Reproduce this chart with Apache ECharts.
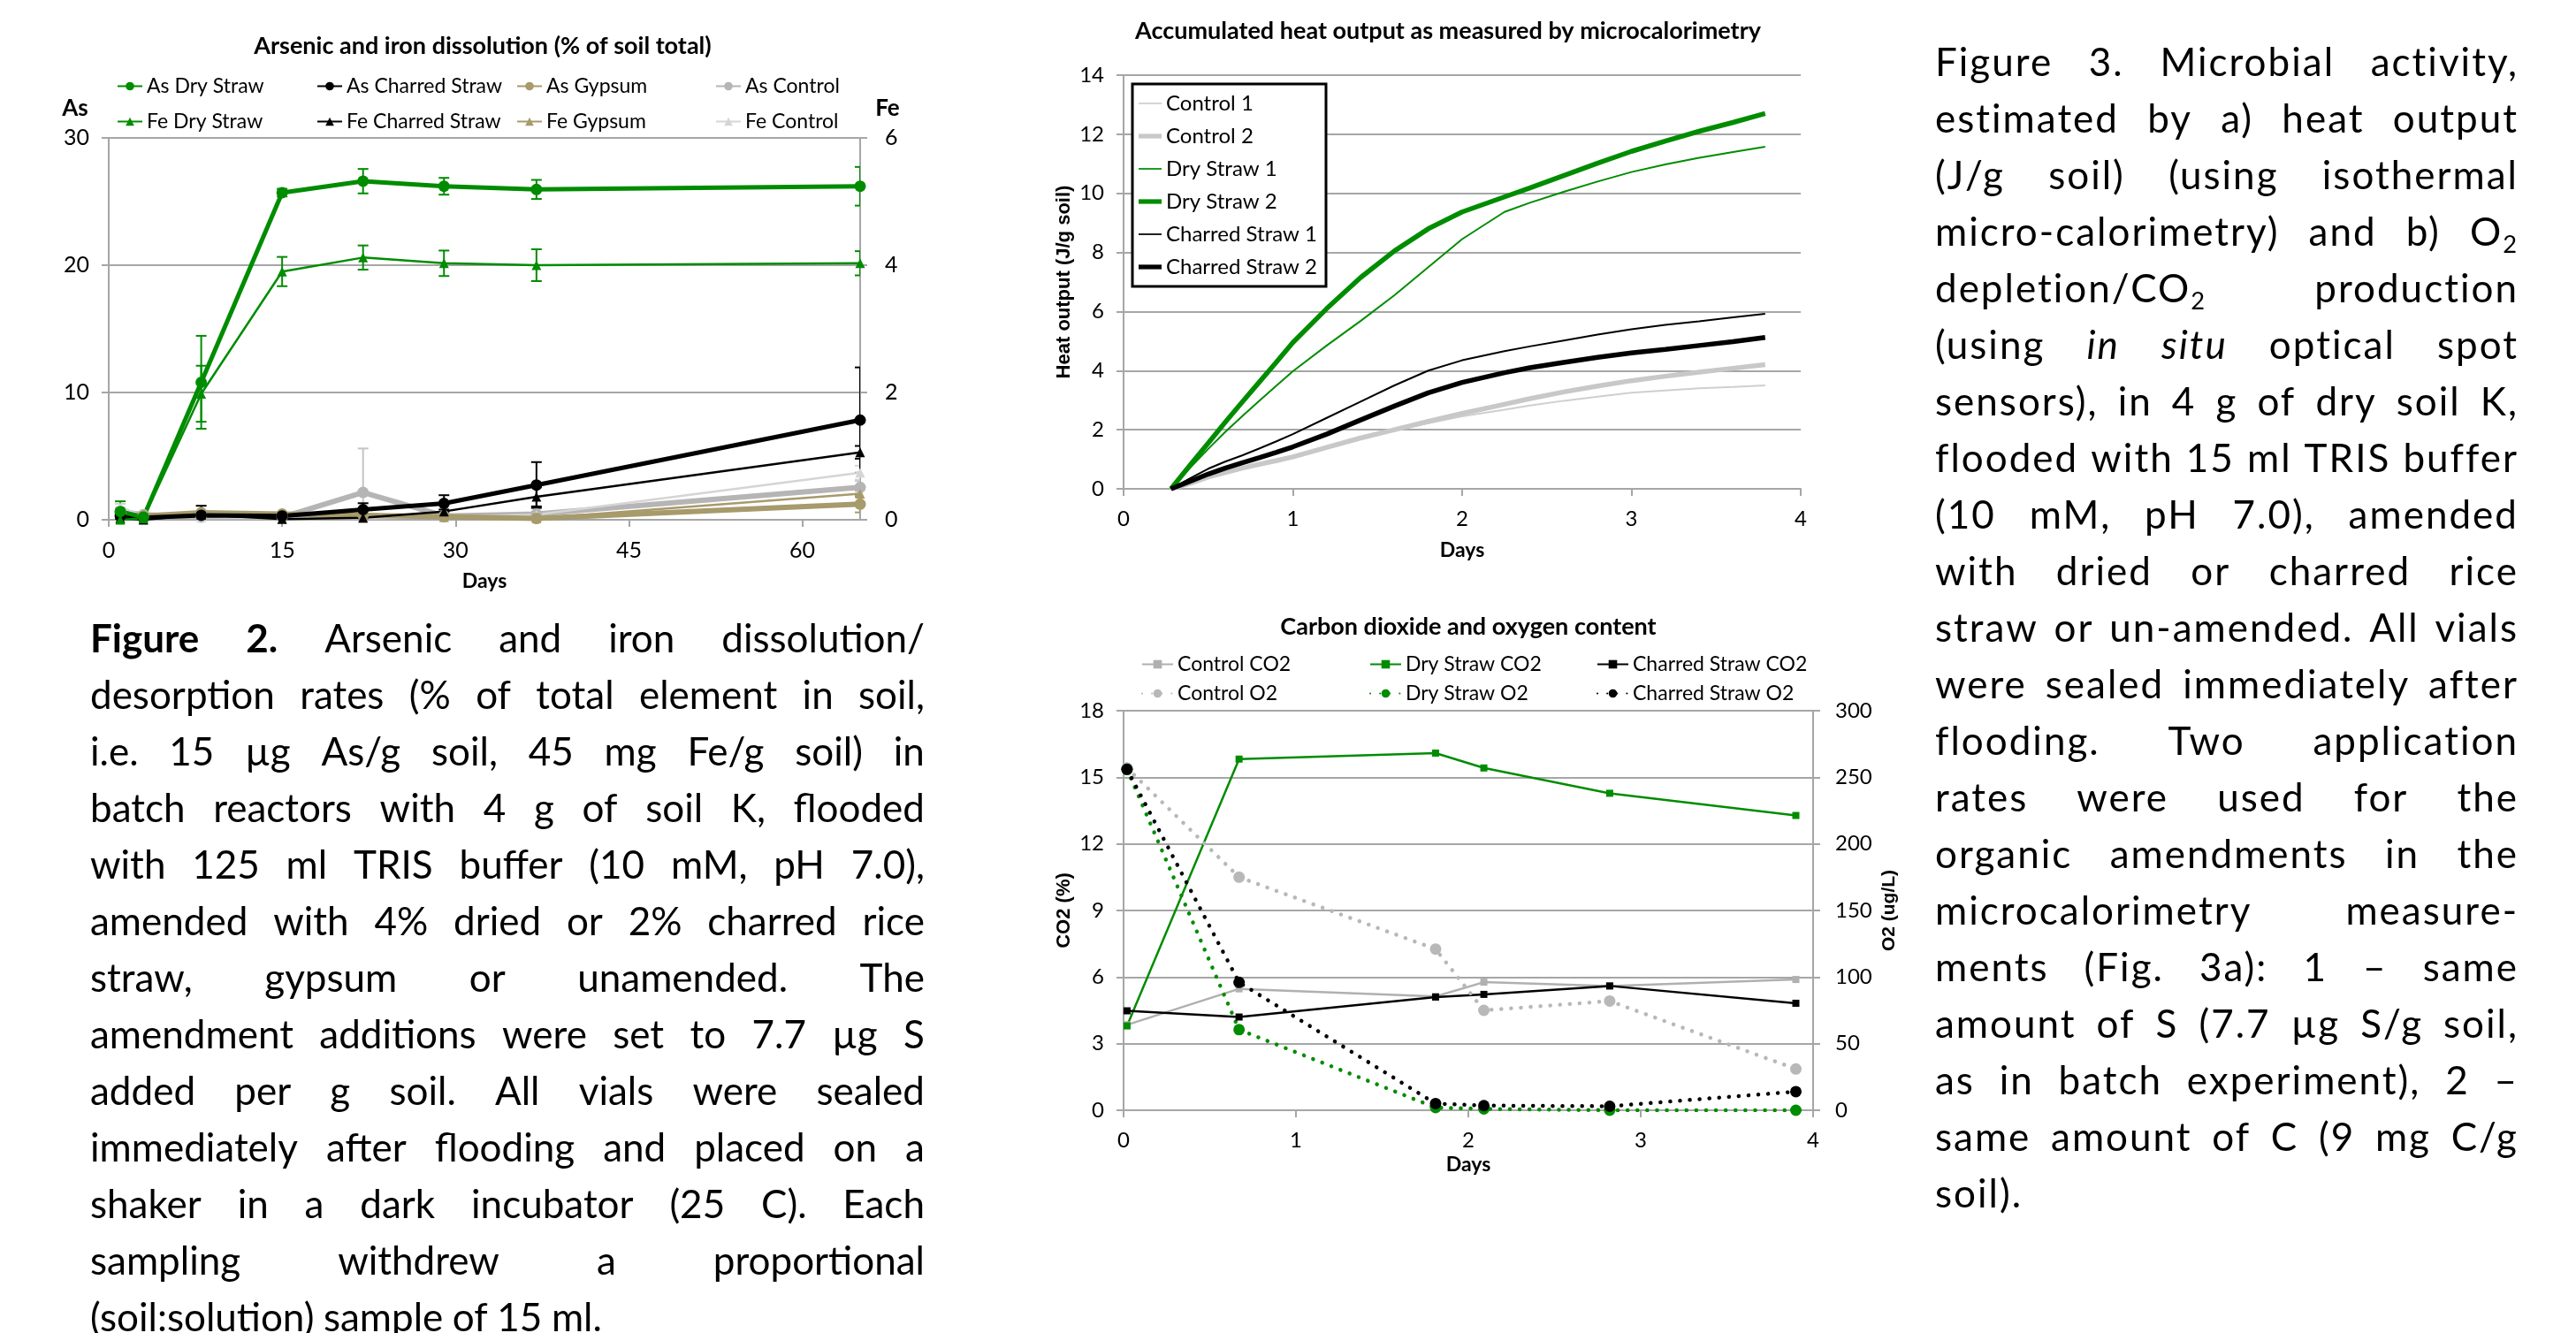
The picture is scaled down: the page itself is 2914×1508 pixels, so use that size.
<!DOCTYPE html>
<html lang="en">
<head>
<meta charset="UTF-8">
<title>Arsenic and iron dissolution / microbial activity</title>
<style>
    html, body { margin: 0; padding: 0; width: 2914px; height: 1508px; overflow: hidden; background: #fff; }
    #main { position: absolute; left: 0; top: 0; width: 2914px; height: 1508px; }
    .cap { position: absolute; font-family: Lato, "Open Sans", sans-serif; color: #000; }
    .cap .ln { display: flex; justify-content: space-between; column-gap: 0.22em; white-space: nowrap; height: 64px; line-height: 64px; }
    .cap .ln.last { justify-content: flex-start; column-gap: 0.24em; }
    .cap sub { font-size: 0.62em; line-height: 0; vertical-align: -0.3em; }
</style>
</head>
<body>
<div id="main"></div>
<div id="cap2" class="cap" style="left:102px; top:689px; width:944px; font-size:44px;"></div>
<div id="cap3" class="cap" style="left:2189px; top:37px; width:660px; font-size:44px; letter-spacing:2px;"></div>

<script src="https://cdn.jsdelivr.net/npm/echarts@6/dist/echarts.min.js"></script>
<script type="text/javascript">

    // ---- Fig 2: As / Fe dissolution (As in % on left axis, Fe in % on right axis)
    var asDays = [1, 3, 8, 15, 22, 29, 37, 65];
    var asDryStraw     = [0.65, 0.2, 10.8, 25.7, 26.6, 26.2, 25.95, 26.2];
    var asDryStrawErr  = [0.8, 0.2, 3.65, 0.3, 0.96, 0.66, 0.75, 1.52];
    var feDryStraw     = [0.0, 0.02, 1.98, 3.9, 4.12, 4.03, 4.0, 4.03];
    var feDryStrawErr  = [0.02, 0.02, 0.44, 0.23, 0.19, 0.2, 0.25, 0.19];
    var asCharred      = [0.3, 0.15, 0.35, 0.3, 0.8, 1.28, 2.73, 7.83];
    var asCharredErr   = [0.15, 0.1, 0.15, 0.1, 0.5, 0.65, 1.8, 4.14];
    var feCharred      = [0.02, 0.0, 0.08, 0.01, 0.03, 0.13, 0.36, 1.06];
    var feCharredErr   = [0.01, 0.01, 0.14, 0.01, 0.02, 0.03, 0.15, 0.1];
    var asGypsum       = [0.45, 0.3, 0.55, 0.45, 0.35, 0.25, 0.1, 1.23];
    var asGypsumErr    = [0.15, 0.1, 0.1, 0.1, 0.1, 0.1, 0.1, 0.65];
    var feGypsum       = [0.04, 0.03, 0.09, 0.08, 0.06, 0.04, 0.02, 0.41];
    var feGypsumErr    = [0.02, 0.01, 0.02, 0.02, 0.01, 0.01, 0.01, 0.05];
    var asControl      = [0.65, 0.4, 0.2, 0.2, 2.15, 0.3, 0.45, 2.55];
    var asControlErr   = [0.3, 0.1, 0.1, 0.1, 3.45, 0.1, 0.2, 0.5];
    var feControl      = [0.2, 0.06, 0.04, 0.02, 0.02, 0.04, 0.08, 0.74];
    var feControlErr   = [0.05, 0.02, 0.02, 0.02, 0.02, 0.02, 0.04, 0.11];

    // ---- Fig 3a: accumulated heat (J/g soil)
    var heatDays   = [0.28, 0.4, 0.5, 0.6, 0.7, 0.8, 0.9, 1.0, 1.2, 1.4, 1.6, 1.8, 2.0, 2.25, 2.4, 2.6, 2.8, 3.0, 3.2, 3.4, 3.6, 3.79];
    var control1   = [0, 0.2, 0.38, 0.52, 0.66, 0.8, 0.92, 1.05, 1.38, 1.7, 1.98, 2.22, 2.45, 2.68, 2.82, 2.98, 3.12, 3.25, 3.33, 3.4, 3.45, 3.5];
    var control2   = [0, 0.2, 0.4, 0.55, 0.7, 0.83, 0.95, 1.08, 1.4, 1.72, 2.0, 2.28, 2.55, 2.86, 3.05, 3.28, 3.48, 3.66, 3.81, 3.95, 4.08, 4.2];
    var dryStraw1  = [0, 0.75, 1.35, 1.92, 2.45, 2.97, 3.48, 3.98, 4.85, 5.68, 6.55, 7.5, 8.45, 9.37, 9.68, 10.05, 10.4, 10.72, 10.98, 11.2, 11.4, 11.58];
    var dryStraw2  = [0, 0.85, 1.55, 2.25, 2.93, 3.6, 4.27, 4.95, 6.1, 7.15, 8.05, 8.8, 9.37, 9.88, 10.18, 10.6, 11.02, 11.42, 11.77, 12.1, 12.4, 12.7];
    var charred1   = [0, 0.38, 0.68, 0.92, 1.13, 1.36, 1.6, 1.85, 2.4, 2.95, 3.5, 4.0, 4.35, 4.66, 4.82, 5.02, 5.22, 5.4, 5.55, 5.67, 5.8, 5.92];
    var charred2   = [0, 0.27, 0.5, 0.7, 0.88, 1.05, 1.23, 1.42, 1.85, 2.33, 2.8, 3.25, 3.6, 3.93, 4.1, 4.28, 4.45, 4.6, 4.72, 4.85, 4.98, 5.12];

    // ---- Fig 3b: CO2 (%) and O2 (ug/L)
    var gasDays     = [0.02, 0.67, 1.81, 2.09, 2.82, 3.9];
    var controlCO2  = [3.85, 5.47, 5.13, 5.77, 5.6, 5.89];
    var dryCO2      = [3.8, 15.82, 16.09, 15.42, 14.28, 13.28];
    var charredCO2  = [4.48, 4.2, 5.1, 5.22, 5.6, 4.82];
    var controlO2   = [257, 175, 121, 75, 82, 31];
    var dryO2       = [256, 60.5, 2, 1, 0, 0];
    var charredO2   = [256, 96, 5, 3.5, 3, 14];

    // ---- captions, one entry per printed line
    var caption2 = [
        '<b>Figure</b> <b>2.</b> Arsenic and iron dissolution/',
        'desorption rates (% of total element in soil,',
        'i.e. 15 µg As/g soil, 45 mg Fe/g soil) in',
        'batch reactors with 4 g of soil K, flooded',
        'with 125 ml TRIS buffer (10 mM, pH 7.0),',
        'amended with 4% dried or 2% charred rice',
        'straw, gypsum or unamended. The',
        'amendment additions were set to 7.7 µg S',
        'added per g soil. All vials were sealed',
        'immediately after flooding and placed on a',
        'shaker in a dark incubator (25 C). Each',
        'sampling withdrew a proportional',
        '(soil:solution) sample of 15 ml.'
    ];
    var caption3 = [
        'Figure 3. Microbial activity,',
        'estimated by a) heat output',
        '(J/g soil) (using isothermal',
        'micro-calorimetry) and b) O<sub>2</sub>',
        'depletion/CO<sub>2</sub> production',
        '(using <i>in</i> <i>situ</i> optical spot',
        'sensors), in 4 g of dry soil K,',
        'flooded with 15 ml TRIS buffer',
        '(10 mM, pH 7.0), amended',
        'with dried or charred rice',
        'straw or un-amended. All vials',
        'were sealed immediately after',
        'flooding. Two application',
        'rates were used for the',
        'organic amendments in the',
        'microcalorimetry measure-',
        'ments (Fig. 3a): 1 – same',
        'amount of S (7.7 µg S/g soil,',
        'as in batch experiment), 2 –',
        'same amount of C (9 mg C/g',
        'soil).'
    ];

    function fillCaption(id, lines) {
        var box = document.getElementById(id);
        lines.forEach(function (t, i) {
            var ln = document.createElement('div');
            ln.className = 'ln' + (i === lines.length - 1 ? ' last' : '');
            t.split(' ').forEach(function (w) {
                var s = document.createElement('span');
                s.innerHTML = w;
                ln.appendChild(s);
            });
            box.appendChild(ln);
        });
        // shrink until every line fits its box
        var fs = parseFloat(box.style.fontSize);
        var over = function () {
            return Array.prototype.some.call(box.children, function (l) { return l.scrollWidth > l.clientWidth + 0.5; });
        };
        while (fs > 20 && over()) {
            fs -= 0.5;
            box.style.fontSize = fs + 'px';
        }
    }
    fillCaption('cap2', caption2);
    fillCaption('cap3', caption3);

    var FONT = 'Lato, "Open Sans", sans-serif';
    var AXIS_C = '#a6a6a6';
    var GREEN = '#008c00';
    var TAN = '#a79a6b';

    function pairs(xs, ys) {
        return xs.map(function (x, i) { return [x, ys[i]]; });
    }

    function valueAxis(o) {
        var base = {
            type: 'value',
            axisLine: { show: true, onZero: false, lineStyle: { color: AXIS_C, width: 2 } },
            axisTick: { show: true, length: 8, lineStyle: { color: AXIS_C, width: 2 } },
            axisLabel: { fontFamily: FONT, fontSize: 24, color: '#000', margin: 22 },
            splitLine: { show: false, lineStyle: { color: AXIS_C, width: 2 } },
            nameTextStyle: { fontFamily: FONT, fontWeight: 'bold', fontSize: 23, color: '#000' }
        };
        for (var k in o) {
            if (typeof o[k] === 'object' && base[k] && !Array.isArray(o[k])) {
                base[k] = Object.assign({}, base[k], o[k]);
            } else {
                base[k] = o[k];
            }
        }
        return base;
    }

    function lineSeries(name, xs, ys, color, width, symbol, size, xIdx, yIdx, extra) {
        var s = {
            name: name,
            type: 'line',
            xAxisIndex: xIdx,
            yAxisIndex: yIdx,
            data: pairs(xs, ys),
            symbol: symbol,
            symbolSize: size,
            lineStyle: { color: color, width: width },
            itemStyle: { color: color },
            emphasis: { disabled: true }
        };
        return Object.assign(s, extra || {});
    }

    function errorSeries(xs, ys, errs, color, yIdx) {
        return {
            type: 'custom',
            name: 'err',
            xAxisIndex: 0,
            yAxisIndex: yIdx,
            silent: true,
            clip: true,
            encode: { x: 0, y: [1, 2] },
            data: xs.map(function (x, i) { return [x, ys[i] - errs[i], ys[i] + errs[i]]; }),
            renderItem: function (params, api) {
                var top = api.coord([api.value(0), api.value(2)]);
                var bot = api.coord([api.value(0), api.value(1)]);
                var w = 6;
                var st = { stroke: color, lineWidth: 2 };
                return {
                    type: 'group',
                    children: [
                        { type: 'line', shape: { x1: top[0], y1: top[1], x2: bot[0], y2: bot[1] }, style: st },
                        { type: 'line', shape: { x1: top[0] - w, y1: top[1], x2: top[0] + w, y2: top[1] }, style: st },
                        { type: 'line', shape: { x1: bot[0] - w, y1: bot[1], x2: bot[0] + w, y2: bot[1] }, style: st }
                    ]
                };
            }
        };
    }

    var legendText = { fontFamily: FONT, fontSize: 23, color: '#000' };
    function colLegend(names, left, top, gap, iw) {
        return {
            data: names, left: left, top: top, orient: 'vertical', padding: 0,
            itemGap: gap, itemWidth: iw, itemHeight: 12, selectedMode: false, textStyle: legendText
        };
    }

    // plain bar icons for the heat legend (thin / thick strokes)
    var THIN = 'path://M0,0H30V2H0Z';
    var THICK = 'path://M0,0H30V6H0Z';

    var titleStyle = { fontFamily: FONT, fontSize: 27, fontWeight: 'bold', color: '#000' };
    var dotted = [0.1, 11];

    var myChart = echarts.init(document.getElementById('main'));

    var option = {
        animation: false,
        backgroundColor: 'transparent',
        title: [
            { text: 'Arsenic and iron dissolution (% of soil total)', left: 546, top: 39, textAlign: 'center', padding: 0, textStyle: titleStyle },
            { text: 'Accumulated heat output as measured by microcalorimetry', left: 1638, top: 22, textAlign: 'center', padding: 0, textStyle: titleStyle },
            { text: 'Carbon dioxide and oxygen content', left: 1661, top: 696, textAlign: 'center', padding: 0, textStyle: titleStyle }
        ],
        legend: [
            colLegend(['As Dry Straw', 'Fe Dry Straw'], 132, 86, 17, 28),
            colLegend(['As Charred Straw', 'Fe Charred Straw'], 358, 86, 17, 28),
            colLegend(['As Gypsum', 'Fe Gypsum'], 584, 86, 17, 28),
            colLegend(['As Control', 'Fe Control'], 809, 86, 17, 28),
            {
                data: [
                    { name: 'Control 1', icon: THIN },
                    { name: 'Control 2', icon: THICK },
                    { name: 'Dry Straw 1', icon: THIN },
                    { name: 'Dry Straw 2', icon: THICK },
                    { name: 'Charred Straw 1', icon: THIN },
                    { name: 'Charred Straw 2', icon: THICK }
                ],
                left: 1281, top: 95, orient: 'vertical', padding: [10, 10, 10, 7],
                borderColor: '#000', borderWidth: 3, backgroundColor: '#fff',
                itemGap: 13, itemWidth: 26, itemHeight: 14, selectedMode: false,
                textStyle: { fontFamily: FONT, fontSize: 24, color: '#000' }
            },
            colLegend(['Control CO2', 'Control O2'], 1291, 740, 10, 35),
            colLegend(['Dry Straw CO2', 'Dry Straw O2'], 1549, 740, 10, 35),
            colLegend(['Charred Straw CO2', 'Charred Straw O2'], 1806, 740, 10, 35)
        ],
        graphic: [
            { type: 'text', x: 85, y: 123, style: { text: 'As', font: 'bold 26px Lato', fill: '#000', align: 'center', verticalAlign: 'middle' } },
            { type: 'text', x: 1004, y: 123, style: { text: 'Fe', font: 'bold 26px Lato', fill: '#000', align: 'center', verticalAlign: 'middle' } }
        ],
        grid: [
            { left: 123, top: 156, width: 850, height: 432, outerBoundsMode: 'none' },
            { left: 1271, top: 85, width: 766, height: 468, outerBoundsMode: 'none' },
            { left: 1271, top: 804, width: 780, height: 452, outerBoundsMode: 'none' }
        ],
        xAxis: [
            valueAxis({ gridIndex: 0, min: 0, max: 65, interval: 15, name: 'Days', nameLocation: 'middle', nameGap: 58,
                axisLabel: { fontSize: 25, showMaxLabel: false } }),
            valueAxis({ gridIndex: 1, min: 0, max: 4, interval: 1, name: 'Days', nameLocation: 'middle', nameGap: 58 }),
            valueAxis({ gridIndex: 2, min: 0, max: 4, interval: 1, name: 'Days', nameLocation: 'middle', nameGap: 50 })
        ],
        yAxis: [
            valueAxis({ gridIndex: 0, min: 0, max: 30, interval: 10, position: 'left',
                axisLabel: { fontSize: 25 }, splitLine: { show: true } }),
            valueAxis({ gridIndex: 0, min: 0, max: 6, interval: 2, position: 'right',
                axisLabel: { fontSize: 25, margin: 28 } }),
            valueAxis({ gridIndex: 1, min: 0, max: 14, interval: 2, splitLine: { show: true },
                name: 'Heat output (J/g soil)', nameLocation: 'middle', nameGap: 56, nameRotate: 90,
                nameTextStyle: { fontFamily: '"Liberation Sans", Arial, sans-serif', fontSize: 22 } }),
            valueAxis({ gridIndex: 2, min: 0, max: 18, interval: 3, splitLine: { show: true },
                name: 'CO2 (%)', nameLocation: 'middle', nameGap: 56, nameRotate: 90,
                nameTextStyle: { fontFamily: '"Liberation Sans", Arial, sans-serif', fontSize: 22 } }),
            valueAxis({ gridIndex: 2, min: 0, max: 300, interval: 50, position: 'right',
                axisLabel: { margin: 25 },
                name: 'O2 (ug/L)', nameLocation: 'middle', nameGap: 76, nameRotate: 90,
                nameTextStyle: { fontFamily: '"Liberation Sans", Arial, sans-serif', fontSize: 21 } })
        ],
        series: [
            // Fig 2
            lineSeries('As Control', asDays, asControl, '#b5b5b5', 6, 'circle', 13, 0, 0),
            errorSeries(asDays, asControl, asControlErr, '#c4c4c4', 0),
            lineSeries('Fe Control', asDays, feControl, '#d5d5d5', 2.5, 'triangle', 11, 0, 1),
            errorSeries(asDays, feControl, feControlErr, '#d5d5d5', 1),
            lineSeries('As Gypsum', asDays, asGypsum, TAN, 6, 'circle', 13, 0, 0),
            errorSeries(asDays, asGypsum, asGypsumErr, TAN, 0),
            lineSeries('Fe Gypsum', asDays, feGypsum, TAN, 2.5, 'triangle', 11, 0, 1),
            errorSeries(asDays, feGypsum, feGypsumErr, TAN, 1),
            lineSeries('As Charred Straw', asDays, asCharred, '#000', 5, 'circle', 13, 0, 0),
            errorSeries(asDays, asCharred, asCharredErr, '#000', 0),
            lineSeries('Fe Charred Straw', asDays, feCharred, '#000', 2.5, 'triangle', 11, 0, 1),
            errorSeries(asDays, feCharred, feCharredErr, '#000', 1),
            lineSeries('As Dry Straw', asDays, asDryStraw, GREEN, 5, 'circle', 13, 0, 0),
            errorSeries(asDays, asDryStraw, asDryStrawErr, GREEN, 0),
            lineSeries('Fe Dry Straw', asDays, feDryStraw, GREEN, 2.5, 'triangle', 11, 0, 1),
            errorSeries(asDays, feDryStraw, feDryStrawErr, GREEN, 1),

            // Fig 3a
            lineSeries('Control 1', heatDays, control1, '#cfcfcf', 2, 'none', 0, 1, 2),
            lineSeries('Control 2', heatDays, control2, '#c8c8c8', 5.5, 'none', 0, 1, 2),
            lineSeries('Dry Straw 1', heatDays, dryStraw1, GREEN, 2, 'none', 0, 1, 2),
            lineSeries('Dry Straw 2', heatDays, dryStraw2, GREEN, 5.5, 'none', 0, 1, 2),
            lineSeries('Charred Straw 1', heatDays, charred1, '#000', 2, 'none', 0, 1, 2),
            lineSeries('Charred Straw 2', heatDays, charred2, '#000', 5.5, 'none', 0, 1, 2),

            // Fig 3b
            lineSeries('Control CO2', gasDays, controlCO2, '#b0b0b0', 2.5, 'rect', 8, 2, 3),
            lineSeries('Dry Straw CO2', gasDays, dryCO2, GREEN, 2.5, 'rect', 8, 2, 3),
            lineSeries('Charred Straw CO2', gasDays, charredCO2, '#000', 2.5, 'rect', 8, 2, 3),
            lineSeries('Control O2', gasDays, controlO2, '#b8b8b8', 4.5, 'circle', 13, 2, 4,
                { lineStyle: { color: '#b8b8b8', width: 4.5, type: dotted, cap: 'round' } }),
            lineSeries('Dry Straw O2', gasDays, dryO2, GREEN, 4.5, 'circle', 13, 2, 4,
                { lineStyle: { color: GREEN, width: 4.5, type: dotted, cap: 'round' } }),
            lineSeries('Charred Straw O2', gasDays, charredO2, '#000', 4.5, 'circle', 13, 2, 4,
                { lineStyle: { color: '#000', width: 4.5, type: dotted, cap: 'round' } })
        ]
    };

    myChart.setOption(option);

</script>
</body>
</html>
